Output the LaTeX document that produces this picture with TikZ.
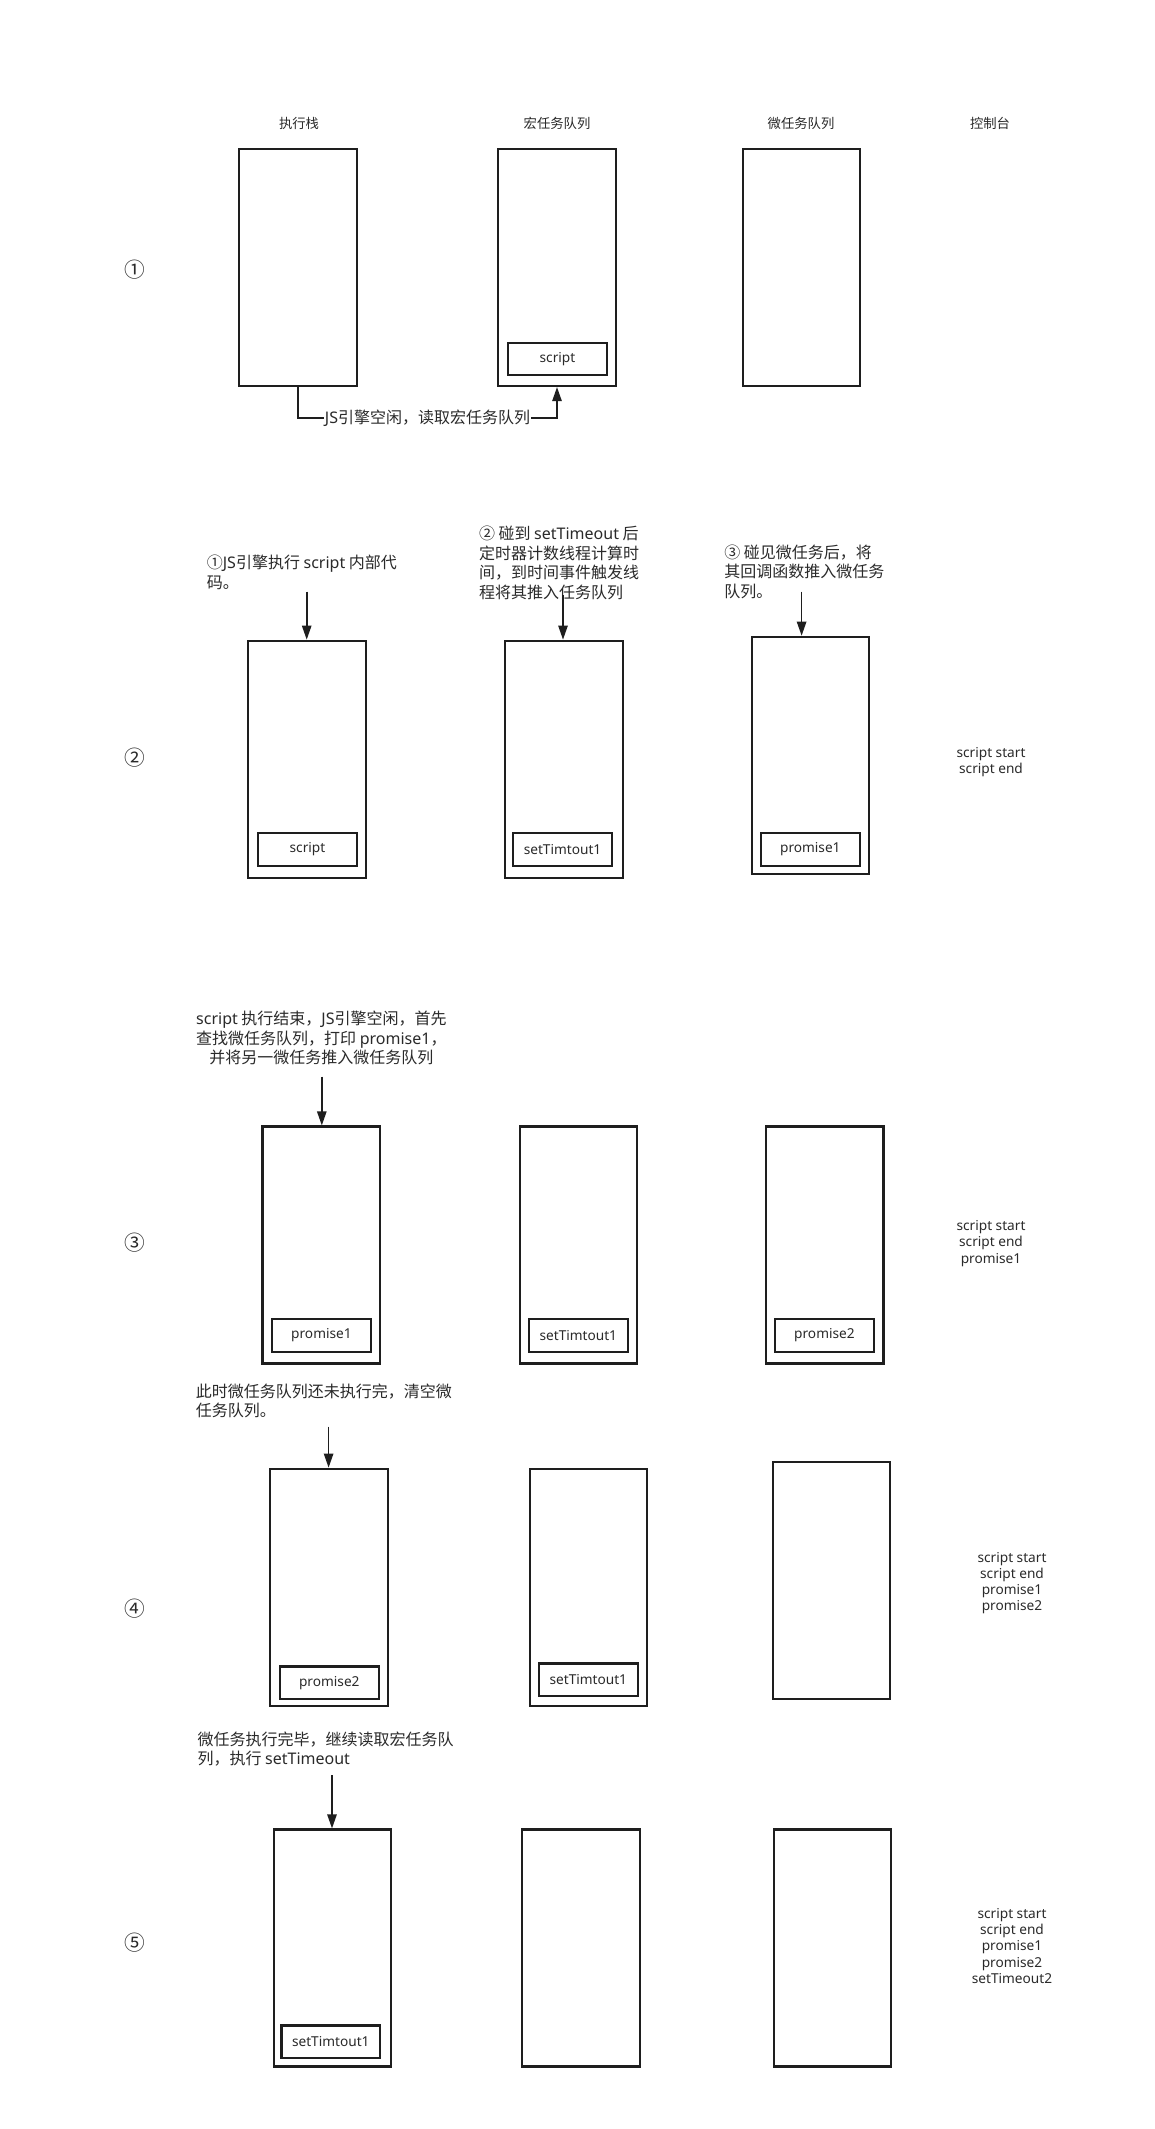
\documentclass[tikz,border=0pt]{standalone}
\usepackage{fontspec}
\setmainfont{Noto Sans CJK SC}
\newfontfamily\latf{Noto Sans}
\usetikzlibrary{arrows.meta}
\definecolor{ink}{HTML}{1E1E1E}
\definecolor{txt}{HTML}{2A2A2A}
\begin{document}
\begin{tikzpicture}[x=0.75pt,y=-0.75pt,
  col/.style={draw=ink, line width=1.6pt, minimum width=88pt, minimum height=177.75pt, inner sep=0pt},
  item/.style={draw=ink, line width=1.6pt, minimum width=74pt, minimum height=24.4pt, inner sep=0pt, font=\latf\fontsize{10.25}{11.8}\selectfont, text=txt},
  hdr/.style={font=\fontsize{10}{12}\selectfont, text=txt, inner sep=0pt},
  lbl/.style={font=\fontsize{12}{14.6}\selectfont, text=txt, inner sep=0pt, align=left, anchor=west},
  rowmark/.style={font=\fontsize{15.5}{17}\selectfont, text=txt, inner sep=0pt},
  cons/.style={font=\latf\fontsize{10.25}{12.2}\selectfont, text=txt, align=center, inner sep=0pt},
  arr/.style={draw=ink, line width=1.2pt, -{Triangle[length=10.5pt,width=7pt]}}
]
\fill[white] (0,0) rectangle (1155,2129);
\useasboundingbox (0,0) rectangle (1155,2129);

% headers
\node[hdr] (h1) at (299,123) {执行栈};
\node[hdr] (h2) at (557,123) {宏任务队列};
\node[hdr] (h3) at (801,123) {微任务队列};
\node[hdr] (h4) at (990,123) {控制台};

% row markers
\node[rowmark] (n1) at (135,270) {①};
\node[rowmark] (n2) at (135,757.7) {②};
\node[rowmark] (n3) at (135,1243) {③};
\node[rowmark] (n4) at (135,1609) {④};
\node[rowmark] (n5) at (135,1943) {⑤};

% row 1
\node[col] (S1) at (298,267.5) {};
\node[col] (M1) at (557,267.5) {};
\node[col] (U1) at (801.5,267.5) {};
\node[item] (i1) at (557.5,359) {script};
\draw[arr] (S1.south) -- ++(0,31) coordinate (k1)
  -- node[fill=white, inner xsep=1pt, inner ysep=0pt, font=\fontsize{12}{14.6}\selectfont, text=txt] {{\latf JS}引擎空闲，读取宏任务队列} (k1 -| M1.south)
  -- (M1.south);

% row 2
\node[col] (S2) at (307,759.2) {};
\node[col] (M2) at (564,759.2) {};
\node[col] (U2) at (810.5,755.3) {};
\node[item] (i2a) at (307.5,849.3) {script};
\node[item] (i2b) at (562.5,849.3) {setTimtout1};
\node[item] (i2c) at (810.3,849.3) {promise1};
\node[lbl] (t2a) at (206.6,572.2) {①{\latf JS}引擎执行 {\latf script} 内部代\\码。};
\node[lbl] (t2b) at (478.8,563) {② 碰到 {\latf setTimeout} 后\\定时器计数线程计算时\\间，到时间事件触发线\\程将其推入任务队列};
\node[lbl] (t2c) at (724,571.5) {③ 碰见微任务后，将\\其回调函数推入微任务\\队列。};
\coordinate (a2a) at (306.7,591.7);
\coordinate (a2b) at (563,595);
\coordinate (a2c) at (801.6,591.7);
\draw[arr] (a2a) -- (a2a |- S2.north);
\draw[arr] (a2b) -- (a2b |- M2.north);
\draw[arr] (a2c) -- (a2c |- U2.north);
\node[cons] (k2) at (991,762) {script start\\script end};

% row 3
\node[col] (S3) at (321.2,1245) {};
\node[col] (M3) at (578.4,1245) {};
\node[col] (U3) at (824.8,1245) {};
\node[item] (i3a) at (321.4,1335.4) {promise1};
\node[item] (i3b) at (578.3,1335.4) {setTimtout1};
\node[item] (i3c) at (824.4,1335.4) {promise2};
\node[lbl, anchor=center, align=center] (t3) at (321.4,1038.3) {{\latf script} 执行结束，{\latf JS}引擎空闲，首先\\查找微任务队列，打印 {\latf promise1}，\\并将另一微任务推入微任务队列};
\coordinate (a3) at (321.8,1076.7);
\draw[arr] (a3) -- (a3 |- S3.north);
\node[cons] (k3) at (991,1243.5) {script start\\script end\\promise1};

% row 4
\node[col] (S4) at (329,1587.2) {};
\node[col] (M4) at (588.3,1587.2) {};
\node[col] (U4) at (831.4,1580.3) {};
\node[item] (i4a) at (329.3,1682.8) {promise2};
\node[item] (i4b) at (588.3,1679.7) {setTimtout1};
\node[lbl] (t4) at (195.6,1400.9) {此时微任务队列还未执行完，清空微\\任务队列。};
\coordinate (a4) at (328.6,1426.7);
\draw[arr] (a4) -- (a4 |- S4.north);
\node[cons] (k4) at (1012,1583) {script start\\script end\\promise1\\promise2};

% row 5
\node[col] (S5) at (332.3,1948) {};
\node[col] (M5) at (581,1948) {};
\node[col] (U5) at (832.7,1948) {};
\node[item] (i5a) at (330.8,2041.7) {setTimtout1};
\node[lbl] (t5) at (197.3,1749) {微任务执行完毕，继续读取宏任务队\\列，执行 {\latf setTimeout}};
\coordinate (a5) at (332,1775);
\draw[arr] (a5) -- (a5 |- S5.north);
\node[cons] (k5) at (1012,1946) {script start\\script end\\promise1\\promise2\\setTimeout2};
\end{tikzpicture}
\end{document}
